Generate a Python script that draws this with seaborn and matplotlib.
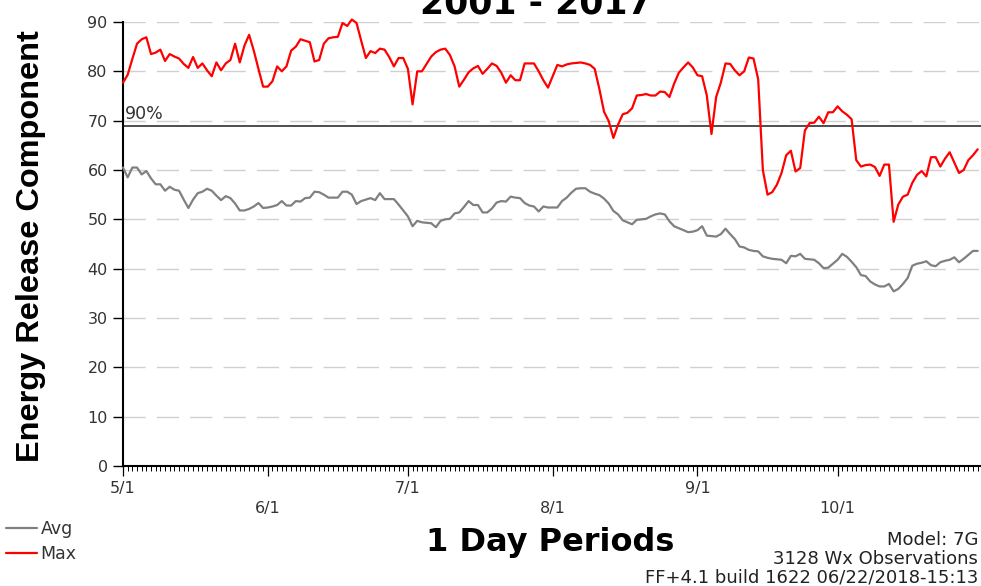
import numpy as np
import pandas as pd
import matplotlib
matplotlib.use('Agg')
import matplotlib.pyplot as plt
import matplotlib.dates as mdates
import seaborn as sns

# Daily ERC values, 5/1 .. 10/31
avg_erc = [60.5, 58.5, 60.5, 60.5, 59.1, 59.8, 58.3, 57.1, 57.1, 55.8,
           56.6, 56.0, 55.8, 54.0, 52.3, 54.0, 55.3, 55.6, 56.2, 55.8,
           54.8, 53.9, 54.7, 54.3, 53.2, 51.8, 51.8, 52.1, 52.6, 53.3,
           52.3, 52.4, 52.6, 52.9, 53.7, 52.8, 52.8, 53.7, 53.6, 54.3,
           54.4, 55.6, 55.5, 55.0, 54.4, 54.4, 54.4, 55.6, 55.6, 55.0,
           53.1, 53.7, 54.0, 54.3, 53.9, 55.3, 54.1, 54.1, 54.1, 53.0,
           51.8, 50.6, 48.6, 49.7, 49.4, 49.3, 49.2, 48.4, 49.7, 50.0,
           50.1, 51.2, 51.4, 52.5, 53.7, 52.9, 52.9, 51.4, 51.4, 52.2,
           53.4, 53.7, 53.6, 54.6, 54.4, 54.3, 53.3, 52.8, 52.6, 51.6,
           52.6, 52.4, 52.4, 52.4, 53.7, 54.4, 55.4, 56.2, 56.3, 56.3,
           55.6, 55.2, 54.9, 54.2, 53.2, 51.7, 51.0, 49.8, 49.4, 49.0,
           49.9, 50.0, 50.1, 50.6, 51.0, 51.2, 51.0, 49.6, 48.6, 48.2,
           47.8, 47.4, 47.5, 47.8, 48.6, 46.7, 46.6, 46.5, 47.0, 48.1,
           47.0, 46.0, 44.5, 44.3, 43.8, 43.6, 43.5, 42.5, 42.2, 42.0,
           41.9, 41.8, 41.1, 42.6, 42.5, 43.0, 42.0, 41.9, 41.8, 41.1,
           40.1, 40.2, 41.0, 41.8, 43.0, 42.4, 41.4, 40.3, 38.7, 38.5,
           37.4, 36.8, 36.4, 36.4, 36.9, 35.4, 35.9, 36.9, 38.1, 40.6,
           41.0, 41.2, 41.5, 40.7, 40.5, 41.3, 41.6, 41.8, 42.3, 41.3,
           42.0, 42.8, 43.6, 43.6]

max_erc = [77.7, 79.3, 82.5, 85.6, 86.5, 86.9, 83.5, 83.8, 84.4, 82.1,
           83.5, 83.0, 82.6, 81.5, 80.7, 82.9, 80.7, 81.6, 80.2, 79.0,
           81.8, 80.2, 81.6, 82.3, 85.6, 81.8, 85.2, 87.4, 84.2, 80.5,
           76.9, 76.9, 78.0, 81.0, 80.0, 81.0, 84.2, 85.0, 86.5, 86.2,
           85.9, 82.0, 82.3, 85.6, 86.7, 86.9, 87.0, 89.8, 89.2, 90.5,
           89.8, 86.2, 82.7, 84.1, 83.7, 84.6, 84.4, 82.9, 81.0, 82.7,
           82.7, 80.5, 73.3, 80.0, 80.0, 81.5, 83.0, 83.9, 84.4, 84.6,
           83.3, 81.0, 76.9, 78.3, 79.8, 80.6, 81.1, 79.5, 80.5, 81.6,
           81.1, 79.7, 77.7, 79.2, 78.2, 78.2, 81.6, 81.6, 81.6, 80.0,
           78.2, 76.7, 79.0, 81.3, 81.0, 81.4, 81.6, 81.7, 81.8, 81.6,
           81.3, 80.5, 76.4, 71.8, 69.9, 66.5, 69.2, 71.3, 71.6, 72.5,
           75.1, 75.2, 75.4, 75.1, 75.1, 75.9, 75.8, 74.8, 77.5, 79.7,
           80.8, 81.8, 80.8, 79.2, 79.0, 75.1, 67.3, 74.8, 77.7, 81.6,
           81.5, 80.2, 79.2, 80.0, 82.8, 82.6, 78.4, 60.0, 55.0, 55.5,
           57.0, 59.4, 63.0, 63.9, 59.7, 60.4, 68.0, 69.5, 69.6, 70.8,
           69.5, 71.7, 71.7, 72.9, 71.9, 71.2, 70.3, 62.0, 60.7, 61.0,
           61.1, 60.6, 58.8, 61.1, 61.1, 49.5, 53.0, 54.6, 55.0, 57.4,
           59.0, 59.8, 58.7, 62.6, 62.6, 60.7, 62.3, 63.6, 61.5, 59.4,
           60.0, 62.0, 63.0, 64.2]

pct90 = 69.0
series_names = ['Avg', 'Max']
series_colors = ['#808080', '#ff0000']

dates = pd.date_range('2017-05-01', periods=len(avg_erc), freq='D')
df = pd.DataFrame({'date': dates, 'Avg': avg_erc, 'Max': max_erc})

sns.set_style('white')
plt.rcParams['font.family'] = ['DejaVu Sans']

fig, ax = plt.subplots(figsize=(9.81, 5.86), dpi=100)
fig.subplots_adjust(left=123/981, right=1.0, bottom=1-466/586, top=1-22/586)

ax.axhline(pct90, color='#404040', lw=1.3, zorder=2)
ax.text(dates[0] + pd.Timedelta(hours=8), pct90 + 0.6, '90%', fontsize=12.5,
        color='#333333', ha='left', va='bottom')

for name, col in zip(series_names, series_colors):
    sns.lineplot(data=df, x='date', y=name, color=col, lw=1.6, ax=ax,
                 label=name, zorder=3, clip_on=False)

ax.set_ylim(0, 90)
ax.set_xlim(dates[0], dates[-1] + pd.Timedelta(hours=17))
ax.set_yticks(np.arange(0, 91, 10))
ax.yaxis.grid(True, linestyle=(0, (16, 8)), color='#d0d0d0', lw=1.0)
ax.xaxis.grid(False)

ax.xaxis.set_major_locator(mdates.MonthLocator())
ax.xaxis.set_minor_locator(mdates.DayLocator())
def fmt_month(x, pos):
    d = mdates.num2date(x)
    lbl = f'{d.month}/{d.day}'
    return lbl if d.month % 2 == 1 else '\n' + lbl
ax.xaxis.set_major_formatter(plt.FuncFormatter(fmt_month))

ax.tick_params(axis='y', which='major', length=7, width=1.0, color='black',
               labelsize=11.5, labelcolor='#333333', pad=4, left=True)
ax.tick_params(axis='x', which='major', length=7, width=0.9, color='black',
               labelsize=11.5, labelcolor='#333333', pad=4, bottom=True)
ax.tick_params(axis='x', which='minor', length=3.5, width=0.7, color='black',
               bottom=True)
for lbl in ax.get_xticklabels():
    lbl.set_linespacing(1.4)

for s in ['top', 'right']:
    ax.spines[s].set_visible(False)
for s in ['left', 'bottom']:
    ax.spines[s].set_color('black')
    ax.spines[s].set_linewidth(1.5)

ax.set_xlabel('1 Day Periods', fontsize=23, fontweight='bold', va='baseline',
              color='black')
ax.xaxis.set_label_coords((550-123)/858, (466-551)/444)
ax.set_ylabel('Energy Release Component', fontsize=23.4, fontweight='bold',
              family='Liberation Sans', va='center', ha='center', color='black')
ax.yaxis.set_label_coords((31-123)/858, (466-246)/444)

fig.text(536/981, 1-13/586, '2001 - 2017', ha='center', va='baseline',
         fontsize=25, fontweight='bold', color='black')

handles, labels = ax.get_legend_handles_labels()
ax.get_legend().remove()
fig.legend(handles, labels, loc='upper left', bbox_to_anchor=(6/981, 1-520/586),
           frameon=False, fontsize=12.5, handlelength=1.8, handletextpad=0.2,
           labelspacing=0.4, borderpad=0, borderaxespad=0, labelcolor='#333333')

notes = ['Model: 7G', '3128 Wx Observations', 'FF+4.1 build 1622 06/22/2018-15:13']
for note, yb in zip(notes, [545, 564, 583]):
    fig.text(978/981, 1-yb/586, note, ha='right', va='baseline', fontsize=13,
             color='#222222')

fig.savefig('out.png', dpi=100)
